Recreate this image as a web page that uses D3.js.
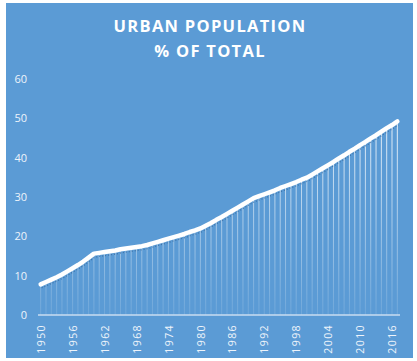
<!DOCTYPE html>
<html>
<head>
<meta charset="utf-8">
<script src="https://cdn.jsdelivr.net/npm/d3@7"></script>
<style>
  body { margin: 0; background: #fff; }
  text { font-family: "Open Sans", "Liberation Sans", sans-serif; }
</style>
</head>
<body>
<div id="chart"></div>
<script>
// urban population, % of total, one value per year
var years = d3.range(1950, 2018);
var urbanPct = [
  7.8, 8.4, 9.0, 9.6, 10.3, 11.1, 11.9, 12.7, 13.6, 14.6,
  15.6, 15.8, 16.0, 16.2, 16.4, 16.7, 16.9, 17.1, 17.3, 17.5,
  17.8, 18.2, 18.6, 19.0, 19.4, 19.8, 20.2, 20.6, 21.1, 21.5,
  22.0, 22.7, 23.4, 24.2, 24.9, 25.7, 26.5, 27.3, 28.1, 28.9,
  29.7, 30.2, 30.7, 31.2, 31.7, 32.3, 32.8, 33.3, 33.8, 34.4,
  34.9, 35.7, 36.5, 37.3, 38.1, 38.9, 39.8, 40.6, 41.5, 42.3,
  43.2, 44.0, 44.9, 45.7, 46.6, 47.5, 48.3, 49.2
];
var yTicks = [0, 10, 20, 30, 40, 50, 60];
var xTickYears = [1950, 1956, 1962, 1968, 1974, 1980, 1986, 1992, 1998, 2004, 2010, 2016];
var titleLines = ["URBAN POPULATION", "% OF TOTAL"];

var data = years.map(function(y, i) { return { year: y, value: urbanPct[i] }; });

var W = 417, H = 361;
var svg = d3.select("#chart").append("svg")
  .attr("width", W)
  .attr("height", H);

// chart area background
svg.append("rect")
  .attr("x", 6).attr("y", 3)
  .attr("width", 407).attr("height", 355)
  .attr("fill", "#5b9bd5");

var defs = svg.append("defs");
var grad = defs.append("linearGradient")
  .attr("id", "dropGrad")
  .attr("gradientUnits", "userSpaceOnUse")
  .attr("x1", 0).attr("y1", 110)
  .attr("x2", 0).attr("y2", 315);
grad.append("stop").attr("offset", 0).attr("stop-color", "#fff").attr("stop-opacity", 0.9);
grad.append("stop").attr("offset", 1).attr("stop-color", "#fff").attr("stop-opacity", 0.12);

var x = d3.scalePoint()
  .domain(years)
  .range([38, 400])
  .padding(0.5);

var y = d3.scaleLinear()
  .domain([0, 60])
  .range([315, 79]);

// title
svg.selectAll(".title")
  .data(titleLines)
  .enter()
  .append("text")
  .attr("class", "title")
  .attr("x", 210)
  .attr("y", function(d, i) { return 32 + i * 25; })
  .attr("text-anchor", "middle")
  .attr("fill", "#fff")
  .attr("font-size", 16.5)
  .attr("font-weight", 700)
  .attr("letter-spacing", 1.3)
  .text(function(d) { return d; });

// y axis labels
var yAxis = svg.append("g")
  .attr("transform", "translate(27,0)")
  .call(d3.axisLeft(y).tickValues(yTicks).tickSize(0).tickPadding(0));
yAxis.select(".domain").remove();
yAxis.selectAll("text")
  .attr("fill", "#eef4fb")
  .attr("font-size", 11)
  .style("font-family", "'Open Sans', sans-serif");

// drop lines
svg.selectAll(".drop")
  .data(data)
  .enter()
  .append("line")
  .attr("class", "drop")
  .attr("x1", function(d) { return x(d.year); })
  .attr("x2", function(d) { return x(d.year); })
  .attr("y1", function(d) { return y(d.value); })
  .attr("y2", y(0))
  .attr("stroke", "url(#dropGrad)")
  .attr("stroke-width", 1);

// x axis
var xAxis = svg.append("g")
  .attr("transform", "translate(0," + y(0) + ")")
  .call(d3.axisBottom(x).tickValues(xTickYears).tickSize(0).tickPadding(0));
xAxis.select(".domain")
  .attr("d", "M38,0H400")
  .attr("stroke", "#c8dcf0")
  .attr("stroke-width", 1.6);
xAxis.selectAll("text")
  .attr("fill", "#eef4fb")
  .attr("font-size", 10.5)
  .attr("letter-spacing", 1.4)
  .attr("text-anchor", "end")
  .attr("dy", "0.35em")
  .attr("transform", "translate(0,9) rotate(-90)")
  .attr("x", 0).attr("y", 0)
  .style("font-family", "'Open Sans', sans-serif");

var line = d3.line()
  .x(function(d) { return x(d.year); })
  .y(function(d) { return y(d.value); });

// dotted shadow under the line
svg.append("path")
  .datum(data)
  .attr("d", line)
  .attr("transform", "translate(1,3.5)")
  .attr("fill", "none")
  .attr("stroke", "#2f5f93")
  .attr("stroke-opacity", 0.7)
  .attr("stroke-width", 1.2)
  .attr("stroke-dasharray", "1,2");

svg.append("path")
  .datum(data)
  .attr("d", line)
  .attr("fill", "none")
  .attr("stroke", "#fff")
  .attr("stroke-width", 4.5)
  .attr("stroke-linejoin", "round")
  .attr("stroke-linecap", "round");
</script>
</body>
</html>
